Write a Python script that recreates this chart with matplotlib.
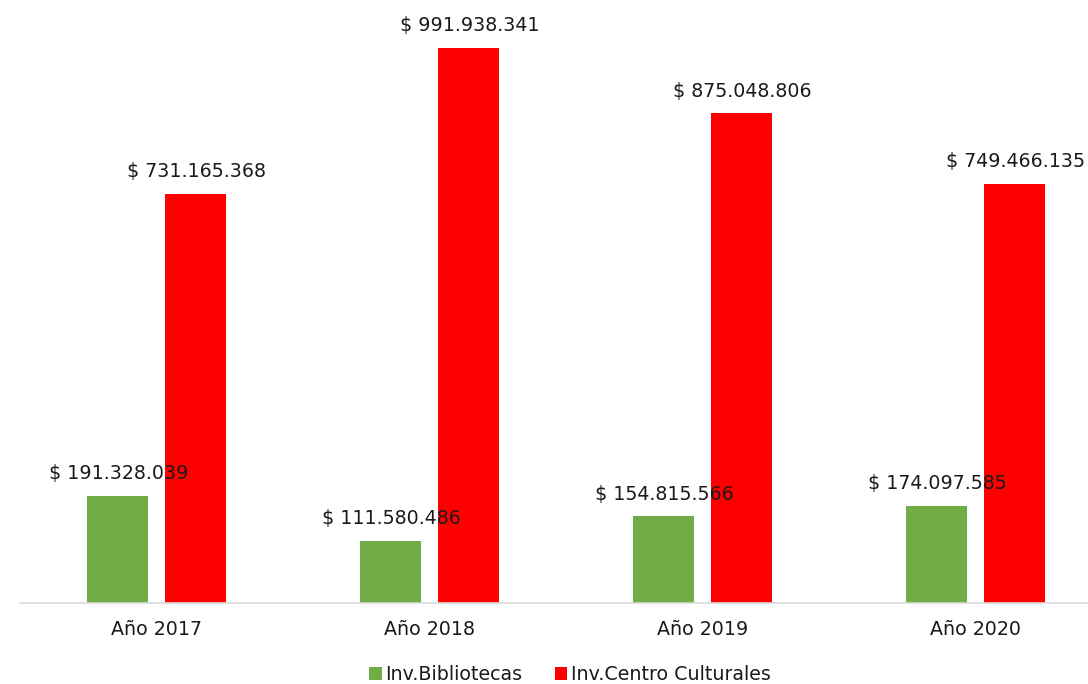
import matplotlib
matplotlib.use("Agg")
import matplotlib.pyplot as plt
import numpy as np

plt.rcParams['font.family'] = ['DejaVu Sans']

categories = ["Año 2017", "Año 2018", "Año 2019", "Año 2020"]
bibliotecas = [191328039, 111580486, 154815566, 174097585]
centros = [731165368, 991938341, 875048806, 749466135]
series_names = ["Inv.Bibliotecas", "Inv.Centro Culturales"]
colors = ["#70AD47", "#FF0000"]


def fmt(v):
    return "$ " + f"{v:,}".replace(",", ".")


fig = plt.figure(figsize=(10.88, 6.84), dpi=100)
ax = fig.add_axes([20 / 1088, 81 / 684, 1 - 20 / 1088, 603 / 684])

x = np.arange(len(categories))
width = 0.223
offset = 0.143
for vals, name, col, dx in [(bibliotecas, series_names[0], colors[0], -offset),
                            (centros, series_names[1], colors[1], offset)]:
    bars = ax.bar(x + dx, vals, width, color=col, label=name)
    for b, v in zip(bars, vals):
        ax.annotate(fmt(v), (b.get_x() + b.get_width() / 2, v),
                    xytext=(1, 22), textcoords="offset pixels",
                    ha="center", va="center", fontsize=13.7, color="#1a1a1a")

ax.set_xlim(-0.5, 3.412)
ax.set_ylim(0, 1077.7e6)
ax.set_xticks(x)
ax.set_xticklabels(categories, fontsize=13.7, color="#1a1a1a")
ax.tick_params(axis="x", length=0, pad=12)
ax.set_yticks([])
for s in ["top", "right", "left"]:
    ax.spines[s].set_visible(False)
ax.spines["bottom"].set_color("#D9D9D9")
ax.spines["bottom"].set_linewidth(1.2)

fig.legend(loc="center", bbox_to_anchor=(570 / 1088, 9 / 684), ncol=2,
           frameon=False, fontsize=13.7, handlelength=0.65, handleheight=0.65,
           handletextpad=0.2, columnspacing=1.7, labelcolor="#1a1a1a")

fig.savefig("out.png", dpi=100)
